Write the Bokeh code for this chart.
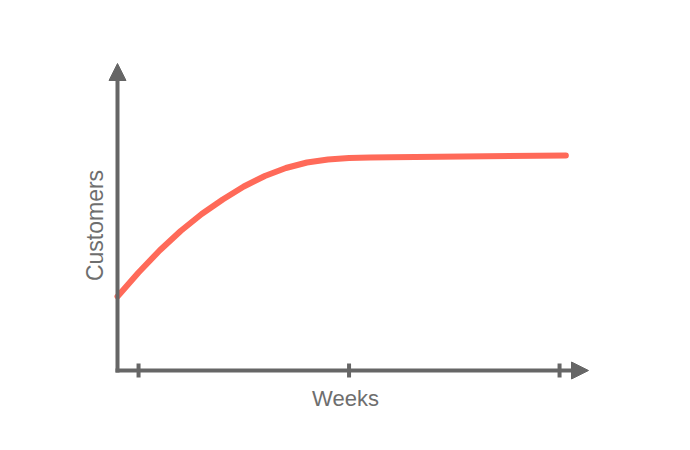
import math
from bokeh.plotting import figure
from bokeh.models import Range1d, Arrow, NormalHead
from bokeh.core.properties import value
from bokeh.embed import file_html
from bokeh.resources import INLINE

# Data
weeks = [0, 1, 2, 3, 4, 5, 6, 7, 8, 9, 10, 11, 12, 13, 21.3]
customers = [74, 98, 120, 139.5, 156.5, 171, 184, 194.5, 202.5, 208, 211, 212.5, 213, 213.2, 215]
tick_weeks = [1, 11, 21]
x_label = "Weeks"
y_label = "Customers"

AXIS = "#666666"
PX_PER_WEEK = 21.05
W, H = 674, 434

p = figure(width=W, height=H, output_backend="svg", toolbar_location=None,
           x_range=Range1d(-117 / PX_PER_WEEK, (W - 117) / PX_PER_WEEK),
           y_range=Range1d(-(H - 370), 370), min_border=0)
p.axis.visible = False
p.grid.visible = False
p.outline_line_color = None
p.background_fill_color = "white"

# axes as arrows
p.add_layout(Arrow(x_start=0, y_start=-2, x_end=0, y_end=307,
                   line_color=AXIS, line_width=4,
                   end=NormalHead(size=17, fill_color=AXIS, line_color=AXIS, line_width=1)))
p.add_layout(Arrow(x_start=-2 / PX_PER_WEEK, y_start=0, x_end=471 / PX_PER_WEEK, y_end=0,
                   line_color=AXIS, line_width=4,
                   end=NormalHead(size=17, fill_color=AXIS, line_color=AXIS, line_width=1)))

# ticks
p.segment(x0=tick_weeks, y0=[-7] * len(tick_weeks), x1=tick_weeks, y1=[7] * len(tick_weeks),
          line_color=AXIS, line_width=4)

# curve
p.line(weeks, customers, line_color="#ff6a59", line_width=6, line_cap="round", line_join="round")

# labels
p.text(x=[10.83], y=[-28], text=[x_label], text_font=value("Liberation Sans"),
       text_font_size="22px", text_color="#6e6e6e", text_align="center", text_baseline="alphabetic")
p.text(x=[-1.09], y=[145], text=[y_label], text_font=value("Liberation Sans"),
       text_font_size="23px", text_color="#6e6e6e", text_align="center", text_baseline="middle",
       angle=math.pi / 2)

open("out.html", "w").write(file_html(p, INLINE))
